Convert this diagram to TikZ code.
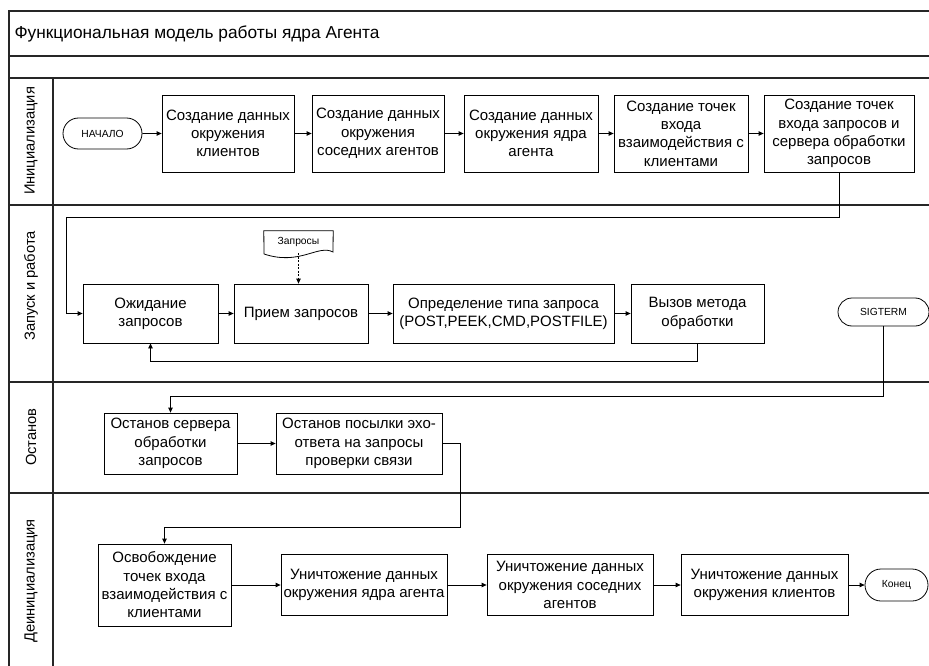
\documentclass[tikz,border=0pt]{standalone}
\usepackage{fontspec}
\setmainfont{Liberation Sans}
\usetikzlibrary{arrows.meta, shapes.misc, calc}

\tikzset{
  box/.style={draw, line width=0.8pt, align=center, inner sep=1pt, font=\fontsize{15}{18.3}\selectfont},
  term/.style={draw, line width=0.8pt, rounded rectangle, inner sep=0pt, font=\fontsize{10.3}{12}\selectfont},
  flow/.style={line width=0.8pt, -{Triangle[length=5pt,width=4.5pt]}},
  lane/.style={line width=1.1pt, black!85},
  lanename/.style={rotate=90, font=\fontsize{14.7}{17}\selectfont},
}

\begin{document}
\begin{tikzpicture}[x=1pt, y=-1pt]
    \useasboundingbox (0,0) rectangle (929,666);

    % Draw the frame and the swimlanes
    \draw[lane] (9,666) -- (9,11) -- (929,11);
    \foreach \y in {56,78,205,382,493}
        \draw[lane] (9,\y) -- (929,\y);
    \draw[lane] (53,78) -- (53,666);

    % Title and lane names
    \node[anchor=west, font=\fontsize{17.3}{20}\selectfont] (title) at (11,34) {Функциональная модель работы ядра Агента};
    \node[lanename] (laneini) at (31,141) {Инициализация};
    \node[lanename] (lanerun) at (31,286) {Запуск и работа};
    \node[lanename] (lanestop) at (31,437) {Останов};
    \node[lanename] (lanedeini) at (31,581) {Деинициализация};

    % Lane 1: initialisation
    \node[term, minimum width=79, minimum height=31] (start) at (102.5,133.5) {НАЧАЛО};
    \node[box, minimum width=132, minimum height=77] (ini1) at (228,133.5) {Создание данных\\окружения\\клиентов};
    \node[box, minimum width=132, minimum height=77] (ini2) at (378,133.5) {Создание данных\\окружения\\соседних агентов};
    \node[box, minimum width=134, minimum height=77] (ini3) at (531,133.5) {Создание данных\\окружения ядра\\агента};
    \node[box, minimum width=134, minimum height=77] (ini4) at (681,133.5) {Создание точек\\входа\\взаимодействия с\\клиентами};
    \node[box, minimum width=150, minimum height=77] (ini5) at (839,133.5) {Создание точек\\входа запросов и\\сервера обработки\\запросов};

    % Lane 2: start and work
    \node[box, minimum width=135, minimum height=59] (wait) at (150.5,313.5) {Ожидание\\запросов};
    \node[box, minimum width=134, minimum height=59] (recv) at (301,313.5) {Прием запросов};
    \node[box, minimum width=221, minimum height=59] (kind) at (503.5,313.5) {Определение типа запроса\\(POST,PEEK,CMD,POSTFILE)};
    \node[box, minimum width=133, minimum height=59] (call) at (697.5,313.5) {Вызов метода\\обработки};
    \node[term, minimum width=91, minimum height=28] (sigterm) at (883.5,312) {SIGTERM};

    % Document with the requests
    \node[minimum width=69, minimum height=22, inner sep=0pt, font=\fontsize{10.3}{12}\selectfont] (docq) at (298.5,242) {Запросы};
    \draw[line width=0.8pt] (264,254) -- (docq.north west) -- (docq.north east) -- (333,252)
        .. controls (318,244) and (300,266) .. (264,254);

    % Lane 3: stop
    \node[box, minimum width=133, minimum height=61] (stop1) at (170.5,443.5) {Останов сервера\\обработки\\запросов};
    \node[box, minimum width=166, minimum height=61] (stop2) at (359,443.5) {Останов посылки эхо-\\ответа на запросы\\проверки связи};

    % Lane 4: deinitialisation
    \node[box, minimum width=133, minimum height=82] (free) at (164.5,585) {Освобождение\\точек входа\\взаимодействия с\\клиентами};
    \node[box, minimum width=166, minimum height=61] (del1) at (364,585) {Уничтожение данных\\окружения ядра агента};
    \node[box, minimum width=166, minimum height=61] (del2) at (570,585) {Уничтожение данных\\окружения соседних\\агентов};
    \node[box, minimum width=167, minimum height=61] (del3) at (764.5,585) {Уничтожение данных\\окружения клиентов};
    \node[term, minimum width=63, minimum height=32] (fin) at (896.5,585) {Конец};

    % Connectors
    \foreach \a/\b in {start/ini1, ini1/ini2, ini2/ini3, ini3/ini4, ini4/ini5,
                       wait/recv, recv/kind, kind/call, stop1/stop2,
                       free/del1, del1/del2, del2/del3, del3/fin}
        \draw[flow] (\a) -- (\b);
    \draw[flow] (ini5.south) -- ++(0,45) -| ($(wait.west)+(-16,0)$) -- (wait.west);
    \draw[flow] (call.south) -- ++(0,18) -| (wait.south);
    \draw[flow, dash pattern=on 2pt off 1.5pt] (docq.south) -- (docq.south |- recv.north);
    \draw[flow] (sigterm.south) -- ++(0,70) -| (stop1.north);
    \draw[flow] (stop2.east) -- ++(18,0) -- ++(0,84) -| (free.north);
\end{tikzpicture}
\end{document}
